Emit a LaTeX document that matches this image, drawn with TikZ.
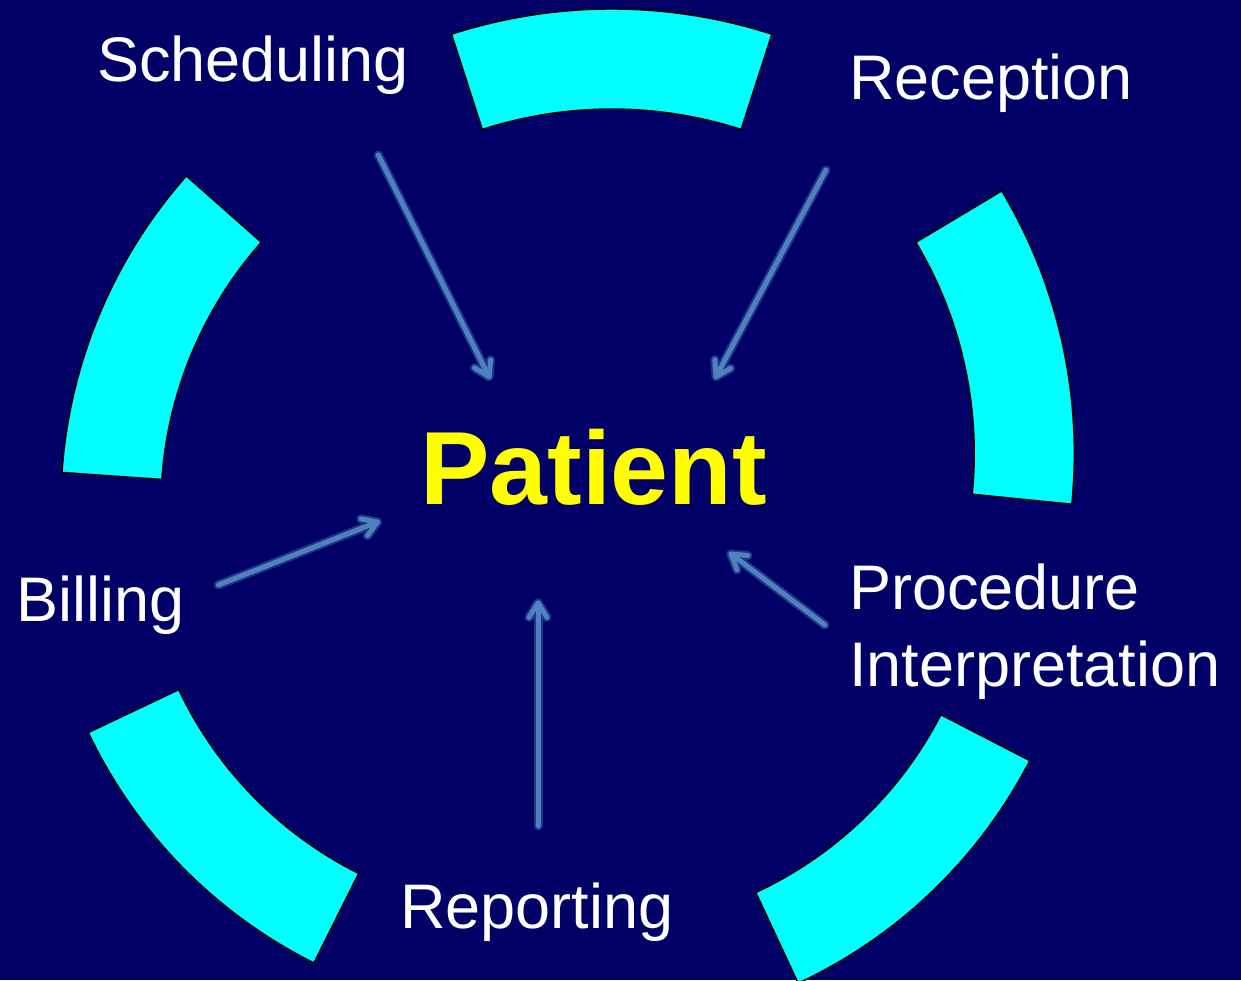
\documentclass[tikz,border=0pt]{standalone}
\usepackage{fontspec}
\setmainfont{Liberation Sans}
\usetikzlibrary{arrows.meta,calc}
\definecolor{navybg}{RGB}{0,0,102}
\definecolor{segcyan}{RGB}{0,255,255}
\definecolor{arrblue}{RGB}{79,129,189}
\definecolor{patyellow}{RGB}{255,255,0}
\tikzset{
  segment/.style={fill=segcyan, draw=black, line width=1.4pt, line join=miter},
  txtlabel/.style={text=white, anchor=base west, inner sep=0pt, font=\fontsize{63}{77}\selectfont},
  centre/.style={text=patyellow, anchor=base west, inner sep=0pt, font=\bfseries\fontsize{104}{110}\selectfont},
  glow/.style={draw=arrblue!40!navybg, line width=9pt, line cap=round, line join=round},
  conn/.style={draw=arrblue, line width=5pt, line cap=round, line join=round}
}
\newcommand{\ringseg}[6]{% cx, cy, R, r, a1, a2
  \draw[segment] ($(#1,#2)+(#5:#3)$) arc[start angle=#5, end angle=#6, radius=#3]
    -- ($(#1,#2)+(#6:#4)$) arc[start angle=#6, end angle=#5, radius=#4] -- cycle;}
% shaft plus an open V head: style, start, tip
\newcommand{\openarrow}[3]{%
  \draw[#1] (#2) -- (#3);
  \draw[#1] ($(#3)!17pt!32:(#2)$) -- (#3) -- ($(#3)!17pt!-32:(#2)$);}
\begin{document}
\begin{tikzpicture}[x=1pt,y=1pt]
  \fill[navybg] (0,0) rectangle (1241,980);
  \useasboundingbox (0,0) rectangle (1241,980);
  \begin{scope}
    \clip (0,0) rectangle (1241,980);
    \ringseg{611.7}{450}{521}{421}{72.1}{107.9}
    \ringseg{563.3}{526.6}{511}{411}{-5.7}{30.9}
    \ringseg{560.8}{472.7}{500}{400}{138.5}{176}
    \ringseg{535.5}{459.7}{495}{395}{205.4}{243.4}
    \ringseg{588.1}{447.3}{497}{397}{-65}{-27.3}
  \end{scope}

  % labels
  \node[txtlabel] (sched) at (97,898.3) {Scheduling};
  \node[txtlabel] (recep) at (849,880) {Reception};
  \node[txtlabel] (bill) at (16,358.3) {Billing};
  \node[txtlabel] (proc) at (849,370) {Procedure};
  \node[txtlabel] (interp) at (849,293.3) {Interpretation};
  \node[txtlabel] (report) at (400,52) {Reporting};
  \node[centre] (patient) at (420,475) {Patient};

  % arrow end points
  \coordinate (s1) at (378.3,825);   \coordinate (e1) at (489,603.3);
  \coordinate (s2) at (826,810);     \coordinate (e2) at (716,603.3);
  \coordinate (s3) at (218.3,395);   \coordinate (e3) at (377.5,458);
  \coordinate (s4) at (825,355);     \coordinate (e4) at (731,426);
  \coordinate (s5) at (538,154);     \coordinate (e5) at (538,377);

  \openarrow{glow}{s1}{e1}
  \openarrow{glow}{s2}{e2}
  \openarrow{glow}{s3}{e3}
  \openarrow{glow}{s4}{e4}
  \openarrow{glow}{s5}{e5}
  \openarrow{conn}{s1}{e1}
  \openarrow{conn}{s2}{e2}
  \openarrow{conn}{s3}{e3}
  \openarrow{conn}{s4}{e4}
  \openarrow{conn}{s5}{e5}
\end{tikzpicture}
\end{document}
